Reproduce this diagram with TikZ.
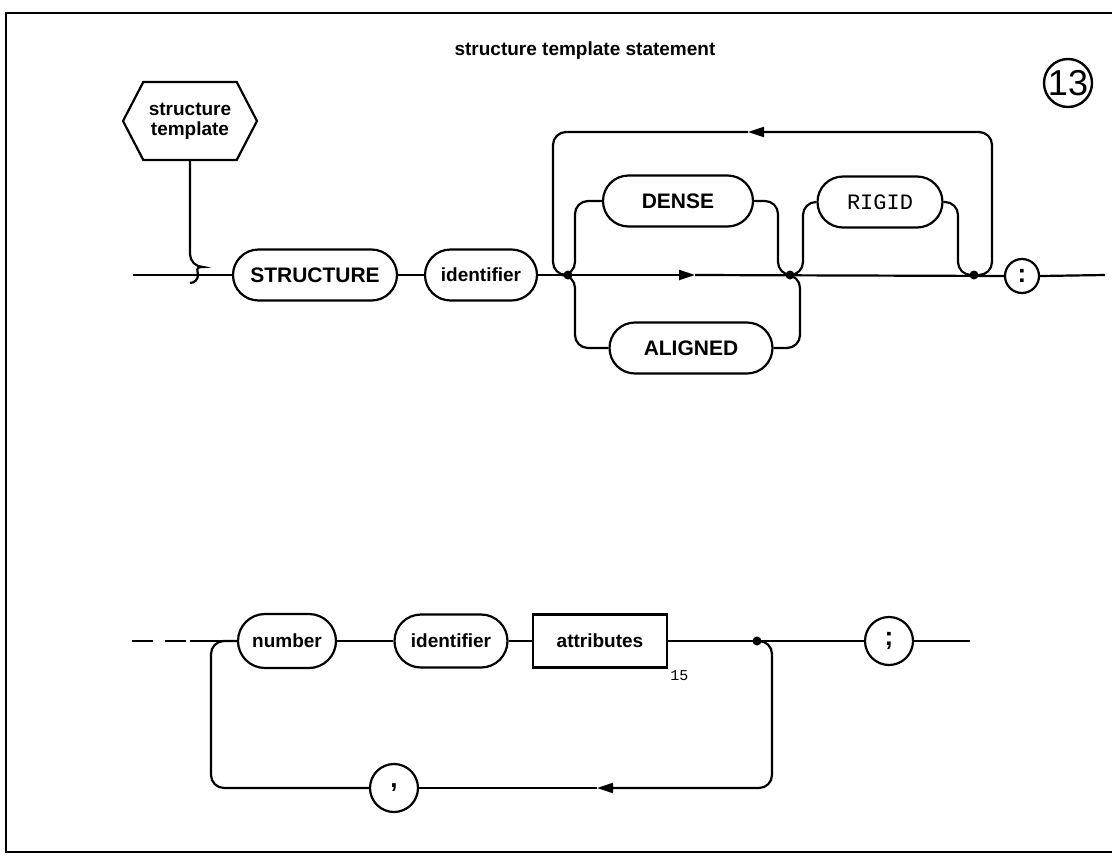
\documentclass[tikz,border=0pt]{standalone}
\usepackage{fontspec}
\setmainfont{Liberation Sans}
\newfontfamily\typefont{Liberation Mono}
\usepackage{tikz}
\usetikzlibrary{shapes.misc,shapes.symbols,arrows.meta}
\tikzset{
    syntax-line/.style = {line width=2.2pt, rounded corners=13pt},
    syntax-box/.style = {draw, line width=2.2pt, rounded rectangle, minimum height=51pt, inner xsep=10pt, font=\fontsize{19}{22}\selectfont\bfseries},
    syntax-caps/.style = {syntax-box, font=\fontsize{21}{22}\selectfont\bfseries},
    syntax-rect/.style = {draw, line width=2.2pt, rectangle, minimum height=53pt, inner xsep=12pt, font=\fontsize{19}{22}\selectfont\bfseries},
    syntax-circ/.style = {draw, line width=2.2pt, circle, minimum size=48pt, inner sep=0pt, font=\fontsize{26}{26}\selectfont\bfseries},
    hex-box/.style = {draw, line width=2.2pt, signal, signal to=west and east, signal pointer angle=125, minimum width=134pt, minimum height=78pt, align=center, font=\fontsize{19}{20}\selectfont\bfseries},
    junction/.style = {circle, fill, inner sep=0pt, minimum size=9pt},
    flow-tip/.style = {-{Triangle[length=16pt,width=10pt]}},
}
\begin{document}
\begin{tikzpicture}[x=1pt,y=1pt]
\useasboundingbox (0,0) rectangle (1112,-868);
\draw[line width=2.5pt] (1112,-13) -- (6,-13) -- (6,-852) -- (1112,-852);

\node[font=\fontsize{19}{22}\selectfont\bfseries] (title) at (585,-51) {structure template statement};
\node[circle, draw, line width=2.4pt, minimum size=48pt, inner sep=0pt, font=\fontsize{36}{36}\selectfont] (sheet) at (1068,-83) {13};

% first row
\node[hex-box] (template) at (190,-121) {structure\\template};
\node[syntax-caps, minimum width=184pt] (structure) at (315,-275) {STRUCTURE};
\node[syntax-box, minimum width=132pt] (ident-a) at (481,-275) {identifier};
\node[syntax-caps, minimum width=170pt] (dense) at (678,-201) {DENSE};
\node[syntax-caps, minimum width=183pt] (aligned) at (691,-348) {ALIGNED};
\node[syntax-box, minimum width=145pt, font=\fontsize{22}{22}\selectfont\typefont] (rigid) at (880,-202) {RIGID};
\node[syntax-circ, minimum size=34pt] (colon) at (1022,-276) {:};

\coordinate (j1) at (568,-275);
\coordinate (j2) at (790,-275);
\coordinate (j3) at (974,-275);
\coordinate (mid-tip) at (695,-275);
\coordinate (top-tip) at (748,-132);
\coordinate (start-a) at (133,-275);
\coordinate (end-a) at (1105,-275);

\draw[syntax-line] (template.south) -- (190,-267) arc[start angle=90, end angle=-90, radius=8];
\draw[syntax-line] (start-a) -- (structure.west);
\draw[syntax-line] (structure.east) -- (ident-a.west);
\draw[syntax-line, flow-tip] (ident-a.east) -- (mid-tip);
\draw[syntax-line] (mid-tip) -- (colon.west);
\draw[syntax-line] (colon.east) -- (end-a);

\draw[syntax-line] (j1) -- ++(7,0) |- (dense.west);
\draw[syntax-line] (j1) -- ++(7,0) |- (aligned.west);
\draw[syntax-line] (dense.east) -| (778,-275) -- (j2);
\draw[syntax-line] (aligned.east) -| (800,-275) -- (j2);
\draw[syntax-line] (j2) -- (803,-275) |- (rigid.west);
\draw[syntax-line] (rigid.east) -| (958,-275) -- (j3);
\draw[syntax-line, flow-tip] (j3) -- (992,-275) |- (top-tip);
\draw[syntax-line] (top-tip) -| (553,-275) -- (j1);

\node[junction] (dot-a) at (j1) {};
\node[junction] (dot-b) at (j2) {};
\node[junction] (dot-c) at (j3) {};

% second row
\node[syntax-box, minimum width=118pt, minimum height=54pt] (number) at (287,-641) {number};
\node[syntax-box, minimum width=133pt, minimum height=53pt] (ident-b) at (451,-641) {identifier};
\node[syntax-rect, minimum width=134pt] (attributes) at (600,-641) {attributes};
\node[anchor=north west, inner sep=2pt, font=\fontsize{15}{15}\selectfont\typefont] (ref) at (attributes.south east) {15};
\node[syntax-circ] (semicolon) at (889,-641) {;};
\node[syntax-circ] (comma) at (394,-788) {,};

\coordinate (j4) at (757,-641);
\coordinate (loop-tip) at (597,-788);
\coordinate (start-b) at (132,-641);
\coordinate (solid-b) at (190,-641);
\coordinate (end-b) at (970,-641);

\draw[syntax-line, dash pattern=on 21pt off 12pt] (start-b) -- (solid-b);
\draw[syntax-line] (solid-b) -- (number.west);
\draw[syntax-line] (number.east) -- (ident-b.west);
\draw[syntax-line] (ident-b.east) -- (attributes.west);
\draw[syntax-line] (attributes.east) -- (semicolon.west);
\draw[syntax-line] (semicolon.east) -- (end-b);
\draw[syntax-line, flow-tip] (j4) -| (772,-788) -- (loop-tip);
\draw[syntax-line] (loop-tip) -- (comma.east);
\draw[syntax-line] (comma.west) -| (211,-641) -- (number.west);
\node[junction] (dot-d) at (j4) {};
\end{tikzpicture}
\end{document}
